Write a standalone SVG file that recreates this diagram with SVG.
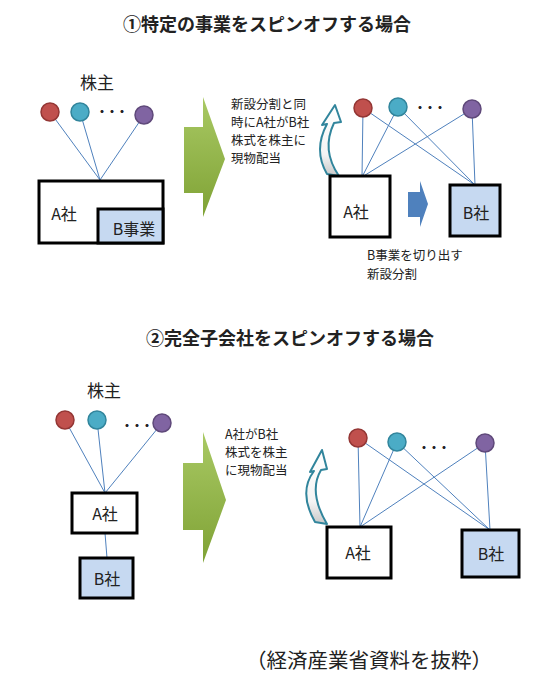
<svg xmlns="http://www.w3.org/2000/svg" width="556" height="691" viewBox="0 0 556 691">
<defs>
<linearGradient id="green" x1="0" y1="0" x2="0" y2="1">
<stop offset="0" stop-color="#a9c964"/>
<stop offset="1" stop-color="#7fa235"/>
</linearGradient>
<linearGradient id="curve" x1="0" y1="0" x2="0" y2="1">
<stop offset="0" stop-color="#ffffff"/>
<stop offset="0.7" stop-color="#f4f4f4"/>
<stop offset="1" stop-color="#c8c8c8"/>
</linearGradient>
</defs>
<style>
text{font-family:"Noto Sans CJK JP","Noto Sans CJK SC",sans-serif;fill:#222}
.title{font-size:18px;font-weight:bold;text-anchor:middle}
.lbl{font-size:16px;text-anchor:middle}
.note{font-size:12.5px}
.dots{font-size:12px;font-weight:bold;letter-spacing:-2px}
.box{fill:#fff;stroke:#000;stroke-width:3}
.bbox{fill:#c6d9f1;stroke:#000;stroke-width:3}
.ln{stroke:#4f81bd;stroke-width:1;fill:none}
.red{fill:#c0504d;stroke:#943634;stroke-width:1.5}
.cyan{fill:#4bacc6;stroke:#31859c;stroke-width:1.5}
.purple{fill:#8064a2;stroke:#5f497a;stroke-width:1.5}
.garrow{fill:url(#green)}
.carrow{fill:url(#curve);stroke:#31859c;stroke-width:2;stroke-linejoin:round}
.foot{font-family:"Liberation Serif","Noto Sans CJK JP",serif;font-size:20.5px;fill:#222}
</style>

<text class="title" x="267" y="31">①特定の事業をスピンオフする場合</text>
<text class="title" x="290" y="345">②完全子会社をスピンオフする場合</text>

<g id="connectors">
<line class="ln" x1="50" y1="112" x2="100" y2="180"/>
<line class="ln" x1="80" y1="112" x2="100" y2="180"/>
<line class="ln" x1="144" y1="115" x2="100" y2="180"/>
<line class="ln" x1="363" y1="108" x2="362" y2="177"/>
<line class="ln" x1="363" y1="108" x2="475" y2="185"/>
<line class="ln" x1="398" y1="107" x2="362" y2="177"/>
<line class="ln" x1="398" y1="107" x2="475" y2="185"/>
<line class="ln" x1="472" y1="109" x2="362" y2="177"/>
<line class="ln" x1="472" y1="109" x2="475" y2="185"/>
<line class="ln" x1="65" y1="420" x2="105" y2="493"/>
<line class="ln" x1="97" y1="420" x2="105" y2="493"/>
<line class="ln" x1="162" y1="423" x2="105" y2="493"/>
<line class="ln" x1="105" y1="533" x2="107" y2="558"/>
<line class="ln" x1="358" y1="438" x2="360" y2="527"/>
<line class="ln" x1="358" y1="438" x2="490" y2="530"/>
<line class="ln" x1="397" y1="442" x2="360" y2="527"/>
<line class="ln" x1="397" y1="442" x2="490" y2="530"/>
<line class="ln" x1="485" y1="443" x2="360" y2="527"/>
<line class="ln" x1="485" y1="443" x2="490" y2="530"/>
</g>

<g id="s1-shareholders">
<text class="lbl" x="97" y="89" style="font-size:17px">株主</text>
<circle class="red" cx="50" cy="112" r="9"/>
<circle class="cyan" cx="80" cy="112" r="9"/>
<text class="dots" x="96" y="117">・・・</text>
<circle class="purple" cx="144" cy="115" r="9"/>
</g>
<g id="s1-A">
<rect class="box" x="39" y="181" width="124" height="62"/>
<text class="lbl" x="64" y="220">A社</text>
</g>
<g id="s1-Bjigyo">
<rect class="bbox" x="98" y="209" width="65" height="34"/>
<text class="lbl" x="134" y="235">B事業</text>
</g>

<g id="s1-greenarrow">
<polygon class="garrow" points="184,127 203,127 203,97 225,159 203,217 203,193 184,193"/>
</g>

<g id="s1-note">
<text class="note" x="231" y="109">新設分割と同</text>
<text class="note" x="231" y="127">時にA社がB社</text>
<text class="note" x="231" y="145">株式を株主に</text>
<text class="note" x="231" y="163">現物配当</text>
</g>
<g id="s1-curvedarrow">
<path class="carrow" d="M327,174 Q313,150 327,124 L322,125 L335,105 L341,122 L334,123 Q321,150 339,176 Z"/>
</g>

<g id="s1r-shareholders">
<circle class="red" cx="363" cy="108" r="9"/>
<circle class="cyan" cx="398" cy="107" r="9"/>
<text class="dots" x="414" y="113">・・・</text>
<circle class="purple" cx="472" cy="109" r="9"/>
</g>
<g id="s1r-A">
<rect class="box" x="330" y="176" width="60" height="61"/>
<text class="lbl" x="356" y="218">A社</text>
</g>
<g id="s1r-blue">
<polygon fill="#4f81bd" points="408,192 420,192 420,181 428,204 420,227 420,217 408,217"/>
</g>
<g id="s1r-B">
<rect class="bbox" x="450" y="185" width="50" height="51"/>
<text class="lbl" x="476" y="219">B社</text>
</g>
<g id="s1r-note">
<text class="note" x="367" y="260">B事業を切り出す</text>
<text class="note" x="367" y="279">新設分割</text>
</g>

<g id="s2-shareholders">
<text class="lbl" x="104" y="397" style="font-size:17px">株主</text>
<circle class="red" cx="65" cy="420" r="9"/>
<circle class="cyan" cx="97" cy="420" r="9"/>
<text class="dots" x="121" y="431">・・・</text>
<circle class="purple" cx="162" cy="423" r="9"/>
</g>
<g id="s2-A">
<rect class="box" x="72" y="493" width="65" height="40"/>
<text class="lbl" x="105" y="520">A社</text>
</g>
<g id="s2-B">
<rect class="bbox" x="80" y="558" width="53" height="40"/>
<text class="lbl" x="107" y="585">B社</text>
</g>

<g id="s2-greenarrow">
<polygon class="garrow" points="183,463 203,463 203,432 226,500 203,563 203,530 183,530"/>
</g>

<g id="s2-note">
<text class="note" x="225" y="439">A社がB社</text>
<text class="note" x="225" y="457">株式を株主</text>
<text class="note" x="225" y="475">に現物配当</text>
</g>
<g id="s2-curvedarrow">
<path class="carrow" d="M315,522 Q298,492 314,471 L310,472 L322,450 L327,469 L321,470 Q308,492 327,524 Z"/>
</g>

<g id="s2r-shareholders">
<circle class="red" cx="358" cy="438" r="9"/>
<circle class="cyan" cx="397" cy="442" r="9"/>
<text class="dots" x="418" y="453">・・・</text>
<circle class="purple" cx="485" cy="443" r="9"/>
</g>
<g id="s2r-A">
<rect class="box" x="327" y="527" width="64" height="51"/>
<text class="lbl" x="358" y="559">A社</text>
</g>
<g id="s2r-B">
<rect class="bbox" x="462" y="530" width="57" height="47"/>
<text class="lbl" x="491" y="560">B社</text>
</g>

<text class="foot" x="246" y="668">（経済産業省資料を抜粋）</text>
</svg>
